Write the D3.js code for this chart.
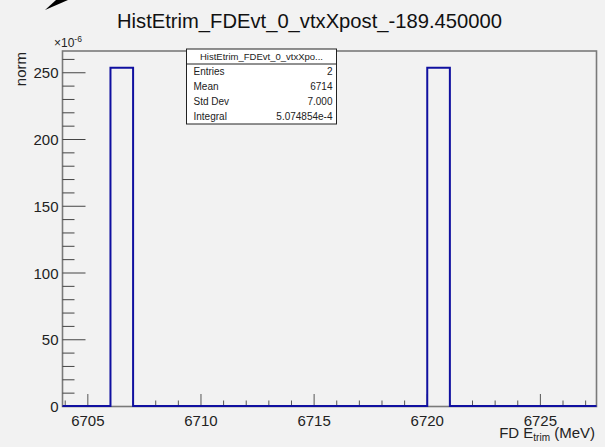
<!DOCTYPE html>
<html>
<head>
<meta charset="utf-8">
<script src="https://cdn.jsdelivr.net/npm/d3@7"></script>
<style>
  html, body { margin: 0; padding: 0; background: #f2f2f2; }
  svg { display: block; font-family: "Liberation Sans", Arial, sans-serif; }
</style>
</head>
<body>
<div id="chart"></div>
<script>
// Histogram data (bin width 1 MeV, contents in units of 1e-6)
const binLow = [6706, 6720];
const binContent = [253.74, 253.74];
const binWidth = 1;

// Axis settings
const xDomain = [6703.88, 6727.48];
const yDomain = [0, 266.3];
const xTicksMajor = [6705, 6710, 6715, 6720, 6725];
const yTicksMajor = [0, 50, 100, 150, 200, 250];

// Stats box
const statTitle = 'HistEtrim_FDEvt_0_vtxXpo...';
const statLabels = ['Entries', 'Mean', 'Std Dev', 'Integral'];
const statValues = ['2', '6714', '7.000', '5.074854e-4'];

const chartTitle = 'HistEtrim_FDEvt_0_vtxXpost_-189.450000';

// Dimensions
const W = 605, H = 447;
const frame = { left: 62.5, right: 596.5, top: 51, bottom: 406.5 };

const svg = d3.select('#chart')
    .append('svg')
    .attr('width', W)
    .attr('height', H);

svg.append('rect')
    .attr('width', W).attr('height', H)
    .attr('fill', '#f2f2f2');

// Scales
const xScale = d3.scaleLinear().domain(xDomain).range([frame.left, frame.right]);
const yScale = d3.scaleLinear().domain(yDomain).range([frame.bottom, frame.top]);

// Frame
svg.append('rect')
    .attr('x', frame.left).attr('y', frame.top)
    .attr('width', frame.right - frame.left)
    .attr('height', frame.bottom - frame.top)
    .attr('fill', 'none')
    .attr('stroke', '#7a7a7a')
    .attr('stroke-width', 1.6);

// Minor/major ticks for x axis (inward)
const xMinor = d3.range(Math.ceil(xDomain[0]), Math.floor(xDomain[1]) + 1);
svg.append('g').selectAll('line')
    .data(xMinor)
    .join('line')
        .attr('x1', d => xScale(d)).attr('x2', d => xScale(d))
        .attr('y1', frame.bottom)
        .attr('y2', d => frame.bottom - (d % 5 === 0 ? 12.5 : 6))
        .attr('stroke', '#555')
        .attr('stroke-width', 1);

svg.append('g').selectAll('text')
    .data(xTicksMajor)
    .join('text')
        .attr('x', d => xScale(d))
        .attr('y', 425.5)
        .attr('text-anchor', 'middle')
        .attr('font-size', 15)
        .attr('fill', '#222')
        .text(d => d);

// y axis ticks
const yMinor = d3.range(0, yDomain[1], 10);
svg.append('g').selectAll('line')
    .data(yMinor)
    .join('line')
        .attr('x1', frame.left)
        .attr('x2', d => frame.left + (d % 50 === 0 ? 23 : 12))
        .attr('y1', d => yScale(d)).attr('y2', d => yScale(d))
        .attr('stroke', '#444')
        .attr('stroke-width', 1);

svg.append('g').selectAll('text')
    .data(yTicksMajor)
    .join('text')
        .attr('x', 58.5)
        .attr('y', d => yScale(d) + 5.5)
        .attr('text-anchor', 'end')
        .attr('font-size', 15)
        .attr('fill', '#222')
        .text(d => d);

// Exponent label
const expo = svg.append('text')
    .attr('x', 54)
    .attr('y', 47)
    .attr('font-size', 12)
    .attr('fill', '#222');
expo.append('tspan').text('\u00d710');
expo.append('tspan').attr('font-size', 8.5).attr('dy', -5).text('-6');

// Histogram outline (step path, zero outside filled bins)
const pts = [[xDomain[0], 0]];
binLow.forEach((lo, i) => {
    pts.push([lo, 0], [lo, binContent[i]], [lo + binWidth, binContent[i]], [lo + binWidth, 0]);
});
pts.push([xDomain[1], 0]);

svg.append('path')
    .datum(pts)
    .attr('fill', 'none')
    .attr('stroke', '#1010a0')
    .attr('stroke-width', 2)
    .attr('d', d3.line()
        .x(d => xScale(d[0]))
        .y(d => Math.min(yScale(d[1]), frame.bottom - 0.5)));

// Title
svg.append('text')
    .attr('x', 117)
    .attr('y', 28)
    .attr('font-size', 20.2)
    .attr('fill', '#111')
    .text(chartTitle);

// Y axis title
svg.append('text')
    .attr('transform', 'translate(25.5, 52) rotate(-90)')
    .attr('text-anchor', 'end')
    .attr('font-size', 15)
    .attr('fill', '#222')
    .text('norm');

// X axis title
const xt = svg.append('text')
    .attr('x', 595)
    .attr('y', 438)
    .attr('text-anchor', 'end')
    .attr('font-size', 15)
    .attr('fill', '#222');
xt.append('tspan').text('FD E');
xt.append('tspan').attr('font-size', 10).attr('dy', 3).text('trim');
xt.append('tspan').attr('dy', -3).text(' (MeV)');

// Stats box
const box = { x: 186.5, y: 49, w: 150, h: 75 };
const rowH = box.h / (statLabels.length + 1);
const stats = svg.append('g');
stats.append('rect')
    .attr('x', box.x).attr('y', box.y)
    .attr('width', box.w).attr('height', box.h)
    .attr('fill', '#ffffff')
    .attr('stroke', '#222')
    .attr('stroke-width', 1);
stats.append('line')
    .attr('x1', box.x).attr('x2', box.x + box.w)
    .attr('y1', box.y + rowH).attr('y2', box.y + rowH)
    .attr('stroke', '#222');
stats.append('text')
    .attr('x', box.x + box.w / 2)
    .attr('y', box.y + rowH / 2 + 3.5)
    .attr('text-anchor', 'middle')
    .attr('font-size', 9.5)
    .attr('fill', '#222')
    .text(statTitle);
stats.selectAll('.lab')
    .data(statLabels)
    .join('text')
        .attr('x', box.x + 7)
        .attr('y', (d, i) => box.y + rowH * (i + 1.5) + 3.5)
        .attr('font-size', 10)
        .attr('fill', '#222')
        .text(d => d);
stats.selectAll('.val')
    .data(statValues)
    .join('text')
        .attr('x', box.x + box.w - 4)
        .attr('y', (d, i) => box.y + rowH * (i + 1.5) + 3.5)
        .attr('text-anchor', 'end')
        .attr('font-size', 10)
        .attr('fill', '#222')
        .text(d => d);

// Arrow fragment at top-left corner
svg.append('polygon')
    .attr('points', '45,10 68,0 56,0')
    .attr('fill', '#000');
</script>
</body>
</html>
